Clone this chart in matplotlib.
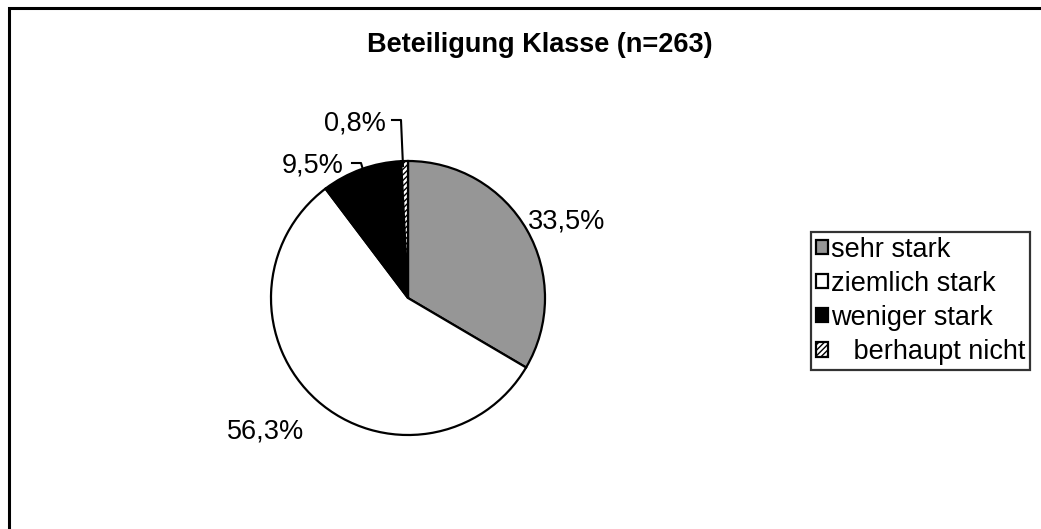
import matplotlib.pyplot as plt
from matplotlib.patches import Rectangle

plt.rcParams['font.family'] = ['Liberation Sans', 'DejaVu Sans']

labels = ['sehr stark', 'ziemlich stark', 'weniger stark', '   berhaupt nicht']
values = [33.5, 56.3, 9.5, 0.8]
pct_text = ['33,5%', '56,3%', '9,5%', '0,8%']
colors = ['#969696', 'white', 'black', 'white']
hatches = [None, None, None, '//////']

W, H = 1041, 529
fig = plt.figure(figsize=(W / 100, H / 100), dpi=100)
ax = fig.add_axes([0, 0, 1, 1])

# pie in pixel space (y upwards)
cx, cy, r = 408, H - 298, 137
wedges, _ = ax.pie(values, colors=colors, startangle=90, counterclock=False,
                   center=(cx, cy), radius=r,
                   wedgeprops=dict(edgecolor='black', linewidth=1.6))
for w, h in zip(wedges, hatches):
    if h:
        w.set_hatch(h)
ax.set_xlim(0, W)
ax.set_ylim(0, H)
ax.set_aspect('auto')
ax.axis('off')

fs = 19.5
ax.text(567, H - 222, pct_text[0], fontsize=fs, ha='center', va='center')
ax.text(266, H - 432, pct_text[1], fontsize=fs, ha='center', va='center')
ax.text(344, H - 166, pct_text[2], fontsize=fs, ha='right', va='center')
ax.text(386, H - 123, pct_text[3], fontsize=fs, ha='right', va='center')

# leader lines
ax.plot([352, 361, 364], [H - 163, H - 163, H - 173], color='black', lw=1.5)
ax.plot([392, 401, 403], [H - 120, H - 120, H - 166], color='black', lw=1.5)

ax.text(540, H - 45, 'Beteiligung Klasse (n=263)', fontsize=fs, fontweight='bold',
        ha='center', va='center')

leg = ax.legend(wedges, labels, loc='upper left',
                bbox_to_anchor=(811 / W, 1 - 232 / H), bbox_transform=fig.transFigure,
                fontsize=fs, frameon=True, fancybox=False, edgecolor='black',
                handlelength=0.45, handleheight=0.45, handletextpad=0.12,
                labelspacing=0.3, borderpad=0.17, borderaxespad=0)
leg.get_frame().set_linewidth(1.6)

# outer chart border (cut off at right/bottom)
fig.patches.append(Rectangle((9 / W, -0.1), 1.2, 1 - 8 / H + 0.1, transform=fig.transFigure,
                             fill=False, edgecolor='black', linewidth=2.2))

fig.savefig('out.png', dpi=100)
